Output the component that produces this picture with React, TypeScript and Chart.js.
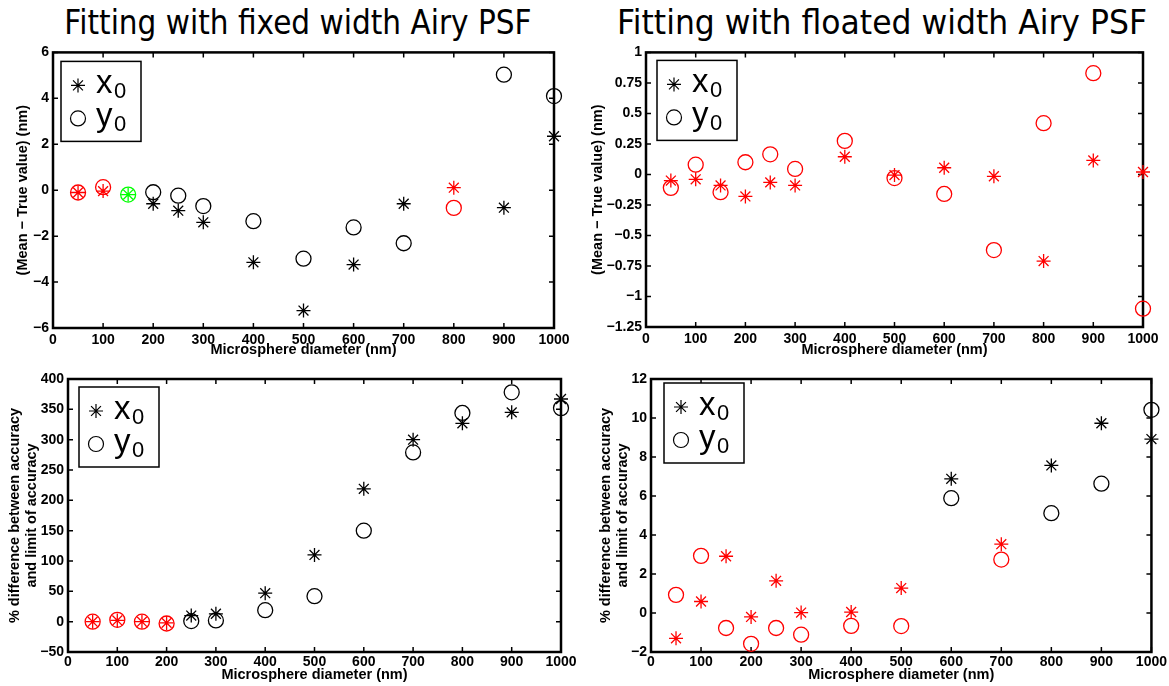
import React, { useEffect, useRef } from "react";
import { Chart, registerables } from "chart.js";

Chart.register(...registerables);

// ---------- data ----------
const diameters = [50, 100, 150, 200, 250, 300, 400, 500, 600, 700, 800, 900, 1000];
const xTicks = [0, 100, 200, 300, 400, 500, 600, 700, 800, 900, 1000];

// Fixed width Airy PSF: Mean - True value (nm)
const fixedMeanX0 = [-0.1, -0.04, -0.19, -0.59, -0.89, -1.4, -3.14, -5.24, -3.24, -0.59, 0.11, -0.76, 2.35];
const fixedMeanY0 = [-0.1, 0.13, -0.19, -0.09, -0.24, -0.69, -1.35, -2.98, -1.62, -2.31, -0.77, 5.03, 4.1];
const fixedMeanColors = ["#ff0000", "#ff0000", "#00ff00", "#000000", "#000000", "#000000", "#000000", "#000000", "#000000", "#000000", "#ff0000", "#000000", "#000000"];
const fixedMeanTicks = [-6, -4, -2, 0, 2, 4, 6];

// Floated width Airy PSF: Mean - True value (nm)
const floatMeanX0 = [-0.05, -0.04, -0.09, -0.18, -0.065, -0.09, 0.145, -0.005, 0.055, -0.015, -0.71, 0.115, 0.02];
const floatMeanY0 = [-0.11, 0.08, -0.145, 0.1, 0.165, 0.045, 0.275, -0.03, -0.16, -0.62, 0.42, 0.83, -1.1];
const floatMeanColors = ["#ff0000", "#ff0000", "#ff0000", "#ff0000", "#ff0000", "#ff0000", "#ff0000", "#ff0000", "#ff0000", "#ff0000", "#ff0000", "#ff0000", "#ff0000"];
const floatMeanTicks = [-1.25, -1, -0.75, -0.5, -0.25, 0, 0.25, 0.5, 0.75, 1];

// Fixed width Airy PSF: % difference
const fixedPctX0 = [0, 2, 0, -2, 10, 13, 47, 110, 219, 300, 327, 345, 367];
const fixedPctY0 = [0, 3, 0, -3, 1, 2, 19, 42, 150, 279, 344, 378, 352];
const fixedPctColors = ["#ff0000", "#ff0000", "#ff0000", "#ff0000", "#000000", "#000000", "#000000", "#000000", "#000000", "#000000", "#000000", "#000000", "#000000"];
const fixedPctTicks = [-50, 0, 50, 100, 150, 200, 250, 300, 350, 400];

// Floated width Airy PSF: % difference
const floatPctX0 = [-1.3, 0.59, 2.91, -0.2, 1.65, 0.02, 0.05, 1.28, 6.88, 3.53, 7.57, 9.73, 8.92];
const floatPctY0 = [0.93, 2.93, -0.77, -1.58, -0.77, -1.11, -0.66, -0.67, 5.89, 2.74, 5.12, 6.63, 10.42];
const floatPctColors = ["#ff0000", "#ff0000", "#ff0000", "#ff0000", "#ff0000", "#ff0000", "#ff0000", "#ff0000", "#000000", "#ff0000", "#000000", "#000000", "#000000"];
const floatPctTicks = [-2, 0, 2, 4, 6, 8, 10, 12];

const titleFixed = "Fitting with fixed width Airy PSF";
const titleFloated = "Fitting with floated width Airy PSF";
const xAxisTitle = "Microsphere diameter (nm)";
const yMeanTitle = "(Mean − True value) (nm)";
const yPctTitle = ["% difference between accuracy", "and limit of accuracy"];
const legendLabels = ["x", "y"];
const legendSub = "0";

// ---------- styling ----------
const FONT = "'Liberation Sans', Arial, Helvetica, sans-serif";
const TICK_SIZE = 14;
const TITLE_SIZE = 14.5;
const TITLE_LH = 1.2;

const fmt = (v: number) => (v < 0 ? "−" + String(-v) : String(v));

const framePlugin = {
  id: "frame",
  beforeDatasetsDraw(chart: any) {
    const { ctx, chartArea, scales } = chart;
    const { left, top, right, bottom } = chartArea;
    const x = scales.x;
    const y = scales.y;
    ctx.save();
    ctx.strokeStyle = "#000";
    ctx.lineWidth = 1.5;
    ctx.beginPath();
    for (const t of x.ticks) {
      const px = x.getPixelForValue(t.value);
      ctx.moveTo(px, bottom);
      ctx.lineTo(px, bottom - 5);
      ctx.moveTo(px, top);
      ctx.lineTo(px, top + 5);
    }
    for (const t of y.ticks) {
      const py = y.getPixelForValue(t.value);
      ctx.moveTo(left, py);
      ctx.lineTo(left + 5, py);
      ctx.moveTo(right, py);
      ctx.lineTo(right - 5, py);
    }
    ctx.stroke();
    ctx.lineWidth = 2.5;
    ctx.strokeRect(left, top, right - left, bottom - top);
    ctx.restore();
  },
};

const legendPlugin = {
  id: "boxLegend",
  afterDatasetsDraw(chart: any, _args: any, opts: any) {
    const { ctx, chartArea } = chart;
    const bx = chartArea.left + opts.dx;
    const by = chartArea.top + opts.dy;
    const w = 80;
    const h = 80;
    ctx.save();
    ctx.fillStyle = "#fff";
    ctx.fillRect(bx, by, w, h);
    ctx.strokeStyle = "#000";
    ctx.lineWidth = 1.5;
    ctx.strokeRect(bx, by, w, h);
    // star marker
    const sx = bx + 17;
    const sy = by + 24;
    const r = 7;
    ctx.lineWidth = 1.2;
    ctx.beginPath();
    for (let k = 0; k < 4; k++) {
      const a = (k * Math.PI) / 4;
      ctx.moveTo(sx - Math.cos(a) * r, sy - Math.sin(a) * r);
      ctx.lineTo(sx + Math.cos(a) * r, sy + Math.sin(a) * r);
    }
    ctx.stroke();
    // circle marker
    ctx.beginPath();
    ctx.arc(bx + 17, by + 57, 7.5, 0, Math.PI * 2);
    ctx.stroke();
    ctx.fillStyle = "#000";
    ctx.textBaseline = "alphabetic";
    ctx.textAlign = "left";
    ctx.font = `33px ${FONT}`;
    ctx.fillText(legendLabels[0], bx + 35, by + 32);
    ctx.fillText(legendLabels[1], bx + 35, by + 65);
    ctx.font = `22px ${FONT}`;
    ctx.fillText(legendSub, bx + 53, by + 37);
    ctx.fillText(legendSub, bx + 53, by + 70);
    ctx.restore();
  },
};

type Rect = { x: number; y: number; w: number; h: number };
type Area = { l: number; t: number; r: number; b: number };
type Spec = {
  canvas: Rect;
  area: Area;
  x0: number[];
  y0: number[];
  colors: string[];
  yTicks: number[];
  yTitle: string | string[];
  yTitleX: number;
  xTitleY: number;
  xTickPad: number;
  legend: { dx: number; dy: number };
};

const panels: Spec[] = [
  {
    canvas: { x: 0, y: 40, w: 580, h: 325 },
    area: { l: 53, t: 50, r: 554, b: 328 },
    x0: fixedMeanX0, y0: fixedMeanY0, colors: fixedMeanColors, yTicks: fixedMeanTicks,
    yTitle: yMeanTitle, yTitleX: 23, xTitleY: 350, xTickPad: 3.5,
    legend: { dx: 8, dy: 9 },
  },
  {
    canvas: { x: 585, y: 40, w: 584, h: 325 },
    area: { l: 646, t: 50, r: 1143, b: 327 },
    x0: floatMeanX0, y0: floatMeanY0, colors: floatMeanColors, yTicks: floatMeanTicks,
    yTitle: yMeanTitle, yTitleX: 598, xTitleY: 350, xTickPad: 3.5,
    legend: { dx: 11, dy: 8 },
  },
  {
    canvas: { x: 0, y: 365, w: 585, h: 321 },
    area: { l: 68, t: 379, r: 561, b: 652 },
    x0: fixedPctX0, y0: fixedPctY0, colors: fixedPctColors, yTicks: fixedPctTicks,
    yTitle: yPctTitle, yTitleX: 15, xTitleY: 675, xTickPad: 2,
    legend: { dx: 11, dy: 8 },
  },
  {
    canvas: { x: 585, y: 365, w: 584, h: 321 },
    area: { l: 651, t: 379, r: 1152, b: 652 },
    x0: floatPctX0, y0: floatPctY0, colors: floatPctColors, yTicks: floatPctTicks,
    yTitle: yPctTitle, yTitleX: 606, xTitleY: 675, xTickPad: 2,
    legend: { dx: 13, dy: 4 },
  },
];

function Panel({ spec }: { spec: Spec }) {
  const ref = useRef<HTMLCanvasElement>(null);
  useEffect(() => {
    const s = spec;
    const cv = ref.current!;
    const yW = s.area.l - s.canvas.x;
    const padTop = s.area.t - s.canvas.y;
    const padRight = s.canvas.x + s.canvas.w - s.area.r;
    const xH = s.canvas.y + s.canvas.h - s.area.b;
    const lh = TITLE_SIZE * TITLE_LH;
    const titleFont = { family: FONT, size: TITLE_SIZE, weight: "bold" as const, lineHeight: TITLE_LH };
    const tickFont = { family: FONT, size: TICK_SIZE, weight: "bold" as const, lineHeight: 1.2 };
    const chart = new Chart(cv, {
      type: "scatter",
      data: {
        datasets: [
          {
            label: "x0",
            data: diameters.map((d, i) => ({ x: d, y: s.x0[i] })),
            pointStyle: "star",
            pointRadius: 7,
            pointBorderWidth: 1.3,
            pointBorderColor: s.colors,
            pointBackgroundColor: "rgba(0,0,0,0)",
            showLine: false,
            clip: false as any,
          },
          {
            label: "y0",
            data: diameters.map((d, i) => ({ x: d, y: s.y0[i] })),
            pointStyle: "circle",
            pointRadius: 7.5,
            pointBorderWidth: 1.3,
            pointBorderColor: s.colors,
            pointBackgroundColor: "rgba(0,0,0,0)",
            showLine: false,
            clip: false as any,
          },
        ],
      },
      options: {
        animation: false,
        responsive: false,
        maintainAspectRatio: false,
        events: [],
        layout: { padding: { left: 0, top: padTop, right: padRight, bottom: 0 } },
        plugins: {
          legend: { display: false },
          tooltip: { enabled: false },
          boxLegend: s.legend,
        } as any,
        scales: {
          x: {
            type: "linear",
            min: 0,
            max: 1000,
            grid: { display: false, drawTicks: false },
            border: { display: false },
            afterBuildTicks: (sc: any) => {
              sc.ticks = xTicks.map((v) => ({ value: v }));
            },
            afterFit: (sc: any) => {
              sc.height = xH;
            },
            ticks: {
              autoSkip: false,
              maxRotation: 0,
              minRotation: 0,
              padding: s.xTickPad,
              color: "#000",
              font: tickFont,
              callback: (v: any) => fmt(Number(v)),
            },
            title: {
              display: true,
              text: xAxisTitle,
              color: "#000",
              font: titleFont,
              padding: { top: 0, bottom: s.canvas.y + s.canvas.h - s.xTitleY - lh / 2 },
            },
          },
          y: {
            type: "linear",
            min: s.yTicks[0],
            max: s.yTicks[s.yTicks.length - 1],
            grid: { display: false, drawTicks: false },
            border: { display: false },
            afterBuildTicks: (sc: any) => {
              sc.ticks = s.yTicks.map((v) => ({ value: v }));
            },
            afterFit: (sc: any) => {
              sc.width = yW;
            },
            ticks: {
              autoSkip: false,
              padding: 4,
              color: "#000",
              font: tickFont,
              callback: (v: any) => fmt(Number(v)),
            },
            title: {
              display: true,
              text: s.yTitle as any,
              color: "#000",
              font: titleFont,
              padding: { top: s.yTitleX - s.canvas.x - lh / 2, bottom: 0 },
            },
          },
        },
      } as any,
      plugins: [framePlugin, legendPlugin],
    });
    return () => chart.destroy();
  }, [spec]);
  return (
    <canvas
      ref={ref}
      width={spec.canvas.w}
      height={spec.canvas.h}
      style={{
        position: "absolute",
        left: spec.canvas.x,
        top: spec.canvas.y,
        width: spec.canvas.w,
        height: spec.canvas.h,
      }}
    />
  );
}

const titleStyle = (cx: number, sx: number): React.CSSProperties => ({
  position: "absolute",
  left: cx,
  top: 5,
  fontFamily: "'DejaVu Sans', Verdana, sans-serif",
  fontSize: 34,
  lineHeight: "34px",
  whiteSpace: "nowrap",
  color: "#000",
  transform: `translateX(-50%) scaleX(${sx})`,
  transformOrigin: "center",
});

export default function App() {
  return (
    <div
      style={{
        position: "absolute",
        left: 0,
        top: 0,
        width: 1169,
        height: 686,
        background: "#fff",
        overflow: "hidden",
      }}
    >
      <div style={titleStyle(298, 0.87)}>{titleFixed}</div>
      <div style={titleStyle(882, 0.925)}>{titleFloated}</div>
      {panels.map((p, i) => (
        <Panel key={i} spec={p} />
      ))}
    </div>
  );
}
